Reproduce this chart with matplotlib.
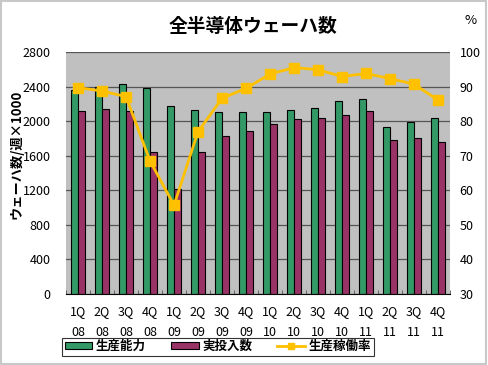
import numpy as np
import matplotlib
matplotlib.use("Agg")
import matplotlib.pyplot as plt
from matplotlib.patches import Rectangle

plt.rcParams['font.family'] = ['Noto Sans CJK JP', 'DejaVu Sans']

quarters = ["1Q\n08", "2Q\n08", "3Q\n08", "4Q\n08",
            "1Q\n09", "2Q\n09", "3Q\n09", "4Q\n09",
            "1Q\n10", "2Q\n10", "3Q\n10", "4Q\n10",
            "1Q\n11", "2Q\n11", "3Q\n11", "4Q\n11"]
capacity = [2360, 2395, 2430, 2385, 2179, 2129, 2102, 2110,
            2102, 2125, 2148, 2229, 2256, 1936, 1990, 2036]
actual = [2117, 2140, 2115, 1640, 1211, 1640, 1828, 1886,
          1967, 2028, 2036, 2071, 2113, 1787, 1805, 1758]
utilization = [89.7, 88.7, 87.1, 68.5, 55.7, 76.9, 86.6, 89.5,
               93.6, 95.5, 94.9, 92.9, 93.8, 92.3, 90.7, 86.1]

GREEN = "#339966"
PURPLE = "#993366"
GOLD = "#FFC000"

W, H = 488, 365
fig = plt.figure(figsize=(W / 100, H / 100), dpi=100)
fig.patches.append(Rectangle((0.002, 0.003), 0.994, 0.994, transform=fig.transFigure,
                             fill=False, edgecolor="#c8c8c8", lw=1.5))

ax = fig.add_axes([66 / W, 1 - 294 / H, (450 - 66) / W, (294 - 52) / H])
ax.set_facecolor("#C0C0C0")

x = np.arange(len(quarters))
bw = 0.29
ax.bar(x - bw / 2, capacity, bw, color=GREEN, edgecolor="black", lw=0.8,
       label="生産能力", zorder=2)
ax.bar(x + bw / 2, actual, bw, color=PURPLE, edgecolor="black", lw=0.8,
       label="実投入数", zorder=2)

ax.set_ylim(0, 2800)
ax.set_yticks(np.arange(0, 2801, 400))
ax.set_xlim(-0.5, len(quarters) - 0.5)
ax.grid(axis="y", color="#555555", lw=0.9, zorder=1)
ax.set_axisbelow(True)
ax.set_xticks(x)
ax.set_xticklabels(quarters, fontsize=9, linespacing=1.75)
ax.set_xticks(np.arange(-0.5, len(quarters), 1), minor=True)
ax.tick_params(axis="x", which="major", length=0, pad=8)
ax.tick_params(axis="x", which="minor", direction="in", length=3, color="#555555")
ax.tick_params(axis="y", length=0, labelsize=9, pad=11)
for s in ["top", "right", "left"]:
    ax.spines[s].set_visible(False)
ax.spines["bottom"].set_color("black")
fig.text(17 / W, 1 - 154 / H, "ウェーハ数/週×1000", rotation=90, ha="center",
         va="center", fontsize=9.5, fontweight="bold")

ax2 = ax.twinx()
ax2.plot(x, utilization, color=GOLD, lw=2, marker="s", ms=7.5, label="生産稼働率", zorder=3)
ax2.set_ylim(30, 100)
ax2.set_yticks(np.arange(30, 101, 10))
ax2.tick_params(axis="y", length=0, labelsize=9, pad=7)
for s in ["top", "right", "left", "bottom"]:
    ax2.spines[s].set_visible(False)

fig.text(253 / W, 1 - 26 / H, "全半導体ウェーハ数", ha="center", va="center",
         fontsize=13.5, fontweight="bold")
fig.text(471 / W, 1 - 20 / H, "%", ha="center", va="center", fontsize=9.5)

h1, l1 = ax.get_legend_handles_labels()
h2, l2 = ax2.get_legend_handles_labels()
leg = fig.legend(h1 + h2, l1 + l2, loc="center", bbox_to_anchor=(218 / W, 1 - 346.5 / H),
                 ncol=3, fontsize=9, frameon=True, fancybox=False,
                 edgecolor="black", handlelength=2.2, handleheight=0.55,
                 columnspacing=2.0, handletextpad=0.3, borderpad=0.2,
                 markerscale=0.6)
leg.get_frame().set_linewidth(0.8)
for t in leg.get_texts():
    t.set_fontweight("bold")

fig.savefig("out.png", dpi=100)
